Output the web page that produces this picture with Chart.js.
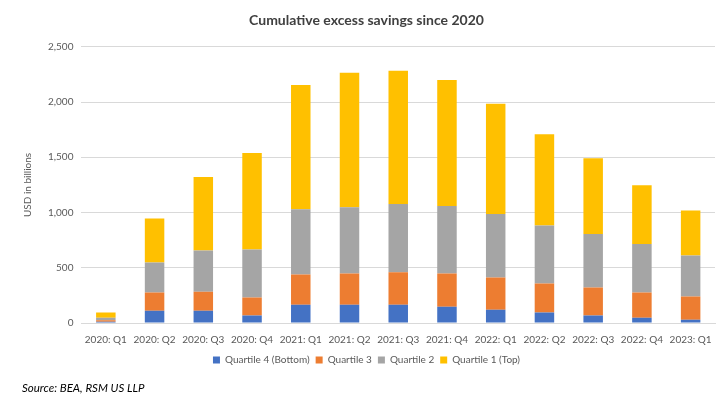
<!DOCTYPE html>
<html>
<head>
<meta charset="utf-8">
<script src="https://cdn.jsdelivr.net/npm/chart.js@4/dist/chart.umd.min.js"></script>
<style>
  html, body { margin: 0; padding: 0; background: #fff; }
  #wrap { position: relative; width: 727px; height: 397px; }
  #source { position: absolute; left: 22px; top: 381px; font: italic 11.5px Lato, "Liberation Sans", sans-serif; color: #000; }
</style>
</head>
<body>
<div id="wrap">
  <canvas id="chart" width="727" height="397"></canvas>
  <div id="source">Source: BEA, RSM US LLP</div>
</div>
<script>
// valori, miliardi di USD
const quarters = ["2020: Q1", "2020: Q2", "2020: Q3", "2020: Q4", "2021: Q1", "2021: Q2", "2021: Q3",
  "2021: Q4", "2022: Q1", "2022: Q2", "2022: Q3", "2022: Q4", "2023: Q1"];
const quartile4 = [12, 112, 112, 67, 166, 166, 166, 148, 121, 94, 67, 48, 30];
const quartile3 = [12, 164, 170, 163, 273, 282, 294, 300, 291, 263, 254, 228, 209];
const quartile2 = [24, 272, 375, 436, 591, 600, 618, 611, 574, 526, 484, 438, 372];
const quartile1 = [46, 397, 664, 873, 1124, 1218, 1206, 1141, 998, 826, 686, 532, 408];
const yTicks = [0, 500, 1000, 1500, 2000, 2500];

const FONT = "Lato, 'Liberation Sans', sans-serif";

function ds(label, data, color) {
  return { label, data, backgroundColor: color, borderWidth: 0, barPercentage: 1, categoryPercentage: 0.4 };
}

new Chart(document.getElementById("chart"), {
  type: "bar",
  data: {
    labels: quarters,
    datasets: [
      ds("Quartile 4 (Bottom)", quartile4, "#4472C4"),
      ds("Quartile 3", quartile3, "#ED7D31"),
      ds("Quartile 2", quartile2, "#A5A5A5"),
      ds("Quartile 1 (Top)", quartile1, "#FFC000"),
    ],
  },
  options: {
    responsive: false,
    animation: false,
    layout: { padding: { left: 18, right: 12, top: 8, bottom: 22 } },
    plugins: {
      title: {
        display: true,
        text: "Cumulative excess savings since 2020",
        color: "#404040",
        font: { family: FONT, size: 14, weight: "bold" },
        padding: { top: 4, bottom: 18 },
      },
      legend: {
        position: "bottom",
        labels: {
          color: "#595959",
          font: { family: FONT, size: 10 },
          boxWidth: 7,
          boxHeight: 7,
          padding: 6,
        },
      },
      tooltip: { enabled: false },
    },
    scales: {
      x: {
        stacked: true,
        grid: { display: false },
        border: { color: "#D9D9D9" },
        ticks: { color: "#595959", font: { family: FONT, size: 10 }, maxRotation: 0, autoSkip: false, padding: 3 },
      },
      y: {
        stacked: true,
        min: 0,
        max: 2500,
        afterBuildTicks: axis => { axis.ticks = yTicks.map(v => ({ value: v })); },
        grid: { color: "#D9D9D9", drawTicks: false },
        border: { display: false },
        title: { display: true, text: "USD in billions", color: "#595959", font: { family: FONT, size: 10 }, padding: { bottom: 6 } },
        ticks: {
          color: "#595959",
          font: { family: FONT, size: 10 },
          padding: 8,
          callback: v => v.toLocaleString("en-US"),
        },
      },
    },
  },
});
</script>
</body>
</html>
